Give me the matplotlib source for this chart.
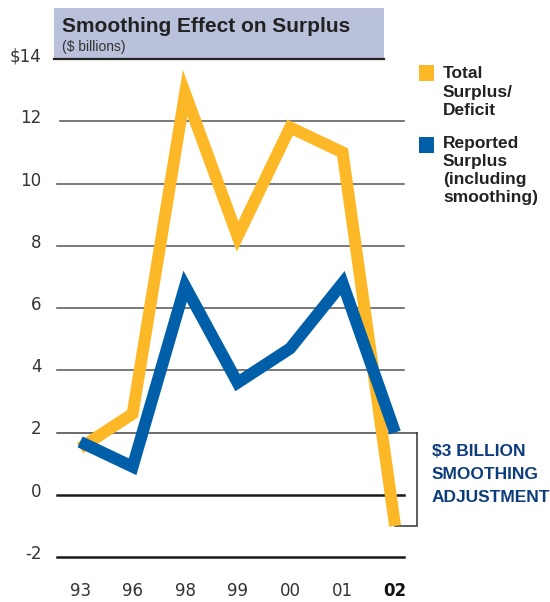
import matplotlib
matplotlib.use("Agg")
import matplotlib.pyplot as plt
import matplotlib.transforms as mtransforms
from matplotlib.patches import Rectangle

# Fiscal years and values ($ billions)
years = ["93", "96", "98", "99", "00", "01", "02"]
total_surplus = [1.5, 2.6, 12.9, 8.3, 11.8, 11.0, -1.0]
reported_surplus = [1.7, 0.9, 6.7, 3.6, 4.7, 6.8, 2.0]
y_ticks = [-2, 0, 2, 4, 6, 8, 10, 12, 14]
y_tick_labels = ["-2", "0", "2", "4", "6", "8", "10", "12", "$14"]

ORANGE = "#fdb827"
BLUE = "#005fa8"
NAVY = "#0d3c7c"
BOX = "#b9c1db"
TXT = "#333333"

W, H = 550, 602
fig = plt.figure(figsize=(W / 100, H / 100), dpi=100)
plt.rcParams["font.family"] = ["Liberation Sans", "DejaVu Sans"]


def fx(px):
    return px / W


def fy(py):
    return 1 - py / H


# plot area: x 57..404 px, y 59..557 px
ax = fig.add_axes([fx(57), fy(557), fx(404) - fx(57), fy(59) - fy(557)])
x = list(range(len(years)))
ax.set_xlim(-0.44, 6.17)
ax.set_ylim(-2, 14)
for s in ax.spines.values():
    s.set_visible(False)

# gridlines
for v in [4, 6, 8, 10, 12]:
    ax.plot([-0.38 if v == 12 else -0.44, 6.17], [v, v], color="#555555", lw=1.1,
            clip_on=False, zorder=1)
ax.plot([-0.44, 6.42], [2, 2], color="#444444", lw=1.1, clip_on=False, zorder=1)
for v in [0, -2]:
    ax.plot([-0.44, 6.17], [v, v], color="#1a1a1a", lw=1.8, clip_on=False, zorder=1)

# bracket marking the smoothing adjustment
ax.plot([6.0, 6.42, 6.42], [-1.0, -1.0, 2.0], color="#333333", lw=1.1,
        clip_on=False, zorder=1, solid_joinstyle="miter")

# series
ax.plot(x, total_surplus, color=ORANGE, lw=8.6, solid_joinstyle="miter",
        solid_capstyle="butt", clip_on=False, zorder=3)
ax.plot(x, reported_surplus, color=BLUE, lw=8.6, solid_joinstyle="miter",
        solid_capstyle="butt", clip_on=False, zorder=4)

tick_font = dict(family=["DejaVu Sans"], size=12)
ax.set_yticks(y_ticks)
ax.set_yticklabels(y_tick_labels, color=TXT, fontdict=tick_font)
ax.set_xticks(x)
ax.set_xticklabels(years, color=TXT, fontdict=tick_font)
ax.get_xticklabels()[-1].set_fontweight("bold")
ax.get_xticklabels()[-1].set_color("#111111")
ax.tick_params(axis="y", length=0, pad=11)
ax.tick_params(axis="x", length=0, pad=18)
# value labels sit slightly above their gridlines
lift = mtransforms.ScaledTranslation(0, 5 / 100, fig.dpi_scale_trans)
for lbl in ax.get_yticklabels():
    lbl.set_transform(lbl.get_transform() + lift)

# title box
fig.patches.append(Rectangle((fx(54), fy(59)), fx(384) - fx(54), fy(8) - fy(59),
                             transform=fig.transFigure, facecolor=BOX,
                             edgecolor="none", zorder=0))
fig.add_artist(plt.Line2D([fx(54), fx(384)], [fy(59), fy(59)], color="#222222",
                          lw=1.6, transform=fig.transFigure))
fig.text(fx(62), fy(26), "Smoothing Effect on Surplus", fontsize=15,
         fontweight="bold", color="#222222", va="center", ha="left")
fig.text(fx(62), fy(47), "($ billions)", fontsize=10, color=TXT,
         va="center", ha="left")

# legend
fig.patches.append(Rectangle((fx(419), fy(81)), fx(434) - fx(419), fy(65) - fy(81),
                             transform=fig.transFigure, facecolor=ORANGE,
                             edgecolor="none"))
fig.patches.append(Rectangle((fx(419), fy(153)), fx(434) - fx(419), fy(137) - fy(153),
                             transform=fig.transFigure, facecolor=BLUE,
                             edgecolor="none"))
fig.text(fx(443), fy(66), "Total\nSurplus/\nDeficit", fontsize=12.5,
         fontweight="bold", color="#222222", va="top", ha="left", linespacing=1.3)
fig.text(fx(443), fy(136), "Reported\nSurplus\n(including\nsmoothing)", fontsize=12.5,
         fontweight="bold", color="#222222", va="top", ha="left", linespacing=1.24)

# annotation
fig.text(fx(432), fy(444), "$3 BILLION\nSMOOTHING\nADJUSTMENT", fontsize=12.5,
         fontweight="bold", color=NAVY, va="top", ha="left", linespacing=1.66)

fig.savefig("out.png", dpi=100)
